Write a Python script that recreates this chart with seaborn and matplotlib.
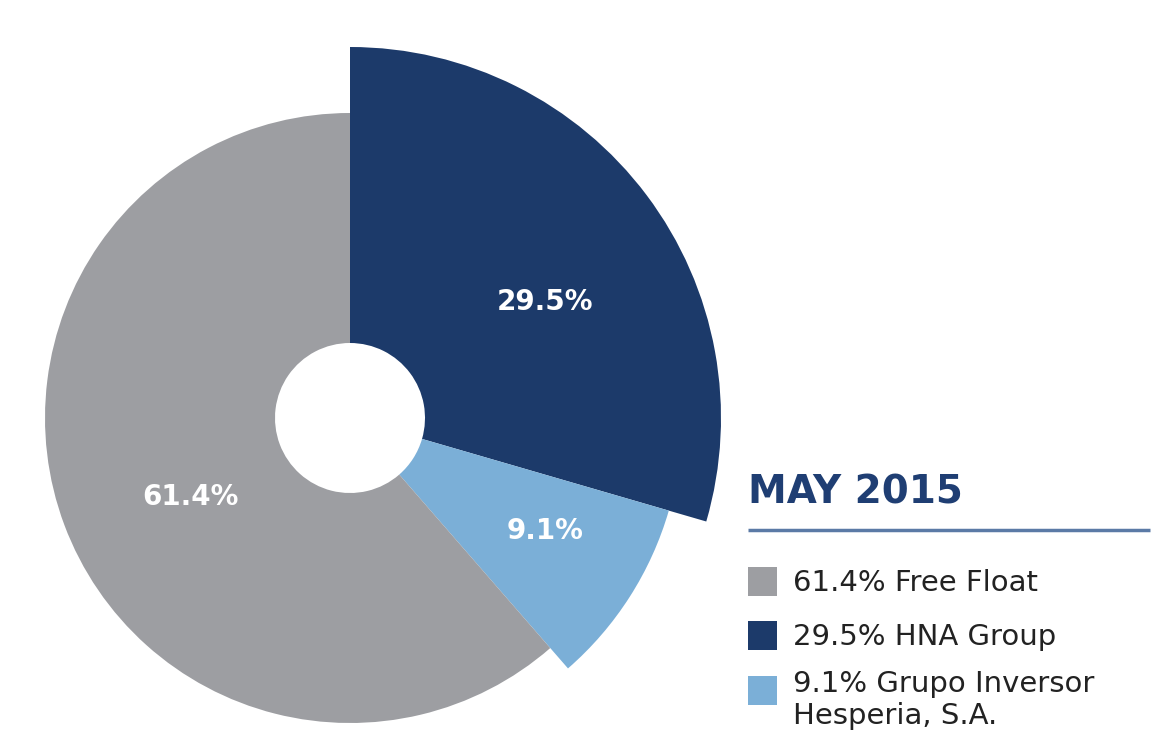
import matplotlib
matplotlib.use("Agg")
import matplotlib.pyplot as plt
from matplotlib.patches import Wedge, Rectangle
import numpy as np
import seaborn as sns

sns.set_theme(style="white")
plt.rcParams['font.family'] = ['DejaVu Sans']

# ---- data ----
categories = ["HNA Group", "Grupo Inversor\nHesperia, S.A.", "Free Float"]
shares = [29.5, 9.1, 61.4]
slice_labels = ["29.5%", "9.1%", "61.4%"]
legend_order = [2, 0, 1]
legend_texts = ["61.4% Free Float", "29.5% HNA Group", "9.1% Grupo Inversor\nHesperia, S.A."]
title = "MAY 2015"

colors = ["#1c3a6a", "#7bafd7", "#9d9ea2"]
radii = [371, 332, 305]          # pixel radius per slice
inner_r = 75
W, H = 1154, 745
cx, cy = 350, H - 418

fig = plt.figure(figsize=(W / 100, H / 100), dpi=100)
ax = fig.add_axes([0, 0, 1, 1])
ax.set_xlim(0, W)
ax.set_ylim(0, H)
ax.set_aspect("equal")
ax.axis("off")

total = sum(shares)
start = 90.0
label_pos = [(545, 302), (545, 531), (190, 497)]
for i, v in enumerate(shares):
    sweep = 360.0 * v / total
    t1 = start - sweep
    ax.add_patch(Wedge((cx, cy), radii[i], t1, start, width=radii[i] - inner_r,
                       facecolor=colors[i], edgecolor="none"))
    lx, ly = label_pos[i]
    ax.text(lx, H - ly, slice_labels[i], color="white", fontsize=20,
            fontweight="bold", ha="center", va="center")
    start = t1

# legend block
ax.text(748, H - 493, title, color="#1f3e73", fontsize=28, fontweight="bold",
        ha="left", va="center")
ax.plot([748, 1150], [H - 530, H - 530], color="#5b7aa6", lw=2.5,
        solid_capstyle="butt")

sq_tops = [567, 621, 676]
for k, idx in enumerate(legend_order):
    top = sq_tops[k]
    ax.add_patch(Rectangle((748, H - top - 29), 29, 29, facecolor=colors[idx],
                           edgecolor="none"))
    txt = legend_texts[k]
    if "\n" in txt:
        ax.text(793, H - top + 6, txt, color="#222222", fontsize=21,
                ha="left", va="top", linespacing=1.2)
    else:
        ax.text(793, H - top - 16, txt, color="#222222", fontsize=21,
                ha="left", va="center")

fig.savefig("out.png", dpi=100)
